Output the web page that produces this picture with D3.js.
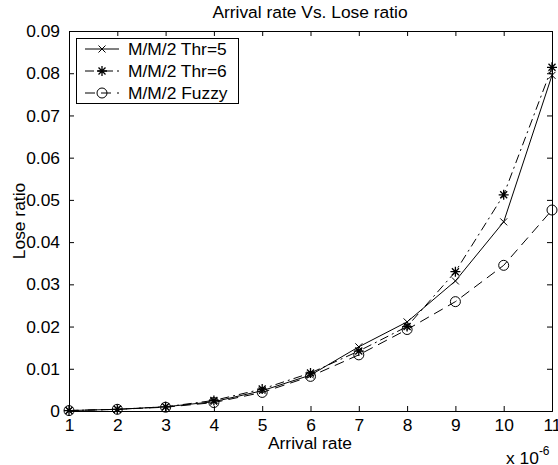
<!DOCTYPE html>
<html>
<head>
<meta charset="utf-8">
<script src="https://cdn.jsdelivr.net/npm/d3@7"></script>
<style>
body { margin: 0; background: #fff; }
svg text { font-family: "Liberation Sans", Arial, sans-serif; fill: #000; }
</style>
</head>
<body>
<svg id="chart" width="558" height="465"></svg>
<script>
// data (arrival rate in units of 1e-6)
var arrivalRate = [1, 2, 3, 4, 5, 6, 7, 8, 9, 10, 11];
var loseThr5  = [0.0001, 0.0004, 0.0010, 0.0022, 0.0048, 0.0085, 0.0152, 0.0211, 0.0308, 0.0448, 0.0795];
var loseThr6  = [0.0001, 0.0004, 0.0010, 0.0025, 0.0052, 0.0090, 0.0142, 0.0200, 0.0330, 0.0512, 0.0814];
var loseFuzzy = [0.0001, 0.0004, 0.0009, 0.0020, 0.0044, 0.0082, 0.0133, 0.0193, 0.0259, 0.0345, 0.0476];
var seriesNames = ["M/M/2 Thr=5", "M/M/2 Thr=6", "M/M/2 Fuzzy"];
var yTicks = [0, 0.01, 0.02, 0.03, 0.04, 0.05, 0.06, 0.07, 0.08, 0.09];

var svg = d3.select("#chart");
var plotLeft = 69, plotRight = 552, plotTop = 31, plotBottom = 411;

var x = d3.scaleLinear().domain([1, 11]).range([plotLeft, plotRight]);
var y = d3.scaleLinear().domain([0, 0.09]).range([plotBottom, plotTop]);

var fontSize = "17.4px";

// title
svg.append("text")
    .attr("x", 310).attr("y", 18)
    .attr("text-anchor", "middle")
    .style("font-size", fontSize)
    .text("Arrival rate Vs. Lose ratio");

// axes, ticks inside like matlab
var xAxis = svg.append("g")
    .attr("transform", "translate(0," + plotBottom + ")")
    .call(d3.axisBottom(x).tickValues(arrivalRate).tickSize(-5).tickPadding(7).tickFormat(d3.format("d")));
xAxis.selectAll("text").style("font-size", fontSize).attr("dy", "0.72em");

var yAxis = svg.append("g")
    .attr("transform", "translate(" + plotLeft + ",0)")
    .call(d3.axisLeft(y).tickValues(yTicks).tickSize(-5).tickPadding(9)
        .tickFormat(function(d) { return d === 0 ? "0" : d3.format(".2f")(d); }));
yAxis.selectAll("text").style("font-size", fontSize);

svg.append("g")
    .attr("transform", "translate(0," + plotTop + ")")
    .call(d3.axisTop(x).tickValues(arrivalRate).tickSize(-5).tickFormat(""));
svg.append("g")
    .attr("transform", "translate(" + plotRight + ",0)")
    .call(d3.axisRight(y).tickValues(yTicks).tickSize(-5).tickFormat(""));

svg.selectAll(".domain").attr("stroke", "#000");
svg.selectAll(".tick line").attr("stroke", "#000");

// axis labels
svg.append("text")
    .attr("x", 310).attr("y", 449)
    .attr("text-anchor", "middle")
    .style("font-size", fontSize)
    .text("Arrival rate");

svg.append("text")
    .attr("transform", "translate(25," + ((plotTop + plotBottom) / 2) + ") rotate(-90)")
    .attr("text-anchor", "middle")
    .style("font-size", fontSize)
    .text("Lose ratio");

var expo = svg.append("text")
    .attr("x", 506).attr("y", 464)
    .style("font-size", fontSize);
expo.append("tspan").text("x 10");
expo.append("tspan").attr("dy", -9).style("font-size", "12px").text("-6");

// series
var series = [
    { name: seriesNames[0], values: loseThr5,  dash: null,      marker: "x" },
    { name: seriesNames[1], values: loseThr6,  dash: "9,4,2,4", marker: "star" },
    { name: seriesNames[2], values: loseFuzzy, dash: "10,6",    marker: "circle" }
];

var line = d3.line()
    .x(function(d, i) { return x(arrivalRate[i]); })
    .y(function(d) { return y(d); });

function drawMarker(g, type, cx, cy) {
    if (type === "circle") {
        g.append("circle").attr("cx", cx).attr("cy", cy).attr("r", 5)
            .attr("fill", "none").attr("stroke", "#000");
    } else if (type === "x") {
        var s = 3.5;
        g.append("path")
            .attr("d", "M" + (cx - s) + "," + (cy - s) + "L" + (cx + s) + "," + (cy + s) +
                       "M" + (cx - s) + "," + (cy + s) + "L" + (cx + s) + "," + (cy - s))
            .attr("stroke", "#000").attr("fill", "none");
    } else {
        var r = 5, d = 3.5;
        g.append("path")
            .attr("d", "M" + (cx - r) + "," + cy + "L" + (cx + r) + "," + cy +
                       "M" + cx + "," + (cy - r) + "L" + cx + "," + (cy + r) +
                       "M" + (cx - d) + "," + (cy - d) + "L" + (cx + d) + "," + (cy + d) +
                       "M" + (cx - d) + "," + (cy + d) + "L" + (cx + d) + "," + (cy - d))
            .attr("stroke", "#000").attr("stroke-width", 1.3).attr("fill", "none");
    }
}

series.forEach(function(s) {
    var g = svg.append("g");
    g.append("path")
        .datum(s.values)
        .attr("d", line)
        .attr("fill", "none")
        .attr("stroke", "#000")
        .attr("stroke-width", 1)
        .attr("stroke-dasharray", s.dash);
    s.values.forEach(function(v, i) {
        drawMarker(g, s.marker, x(arrivalRate[i]), y(v));
    });
});

// legend
var legend = svg.append("g");
legend.append("rect")
    .attr("x", 76.5).attr("y", 38.5)
    .attr("width", 162).attr("height", 65)
    .attr("fill", "#fff").attr("stroke", "#000");

series.forEach(function(s, i) {
    var ly = 49 + i * 22;
    legend.append("line")
        .attr("x1", 85).attr("x2", 119)
        .attr("y1", ly).attr("y2", ly)
        .attr("stroke", "#000")
        .attr("stroke-dasharray", s.dash);
    drawMarker(legend, s.marker, 102, ly);
    legend.append("text")
        .attr("x", 128).attr("y", ly)
        .attr("dy", "0.36em")
        .style("font-size", fontSize)
        .text(s.name);
});
</script>
</body>
</html>
